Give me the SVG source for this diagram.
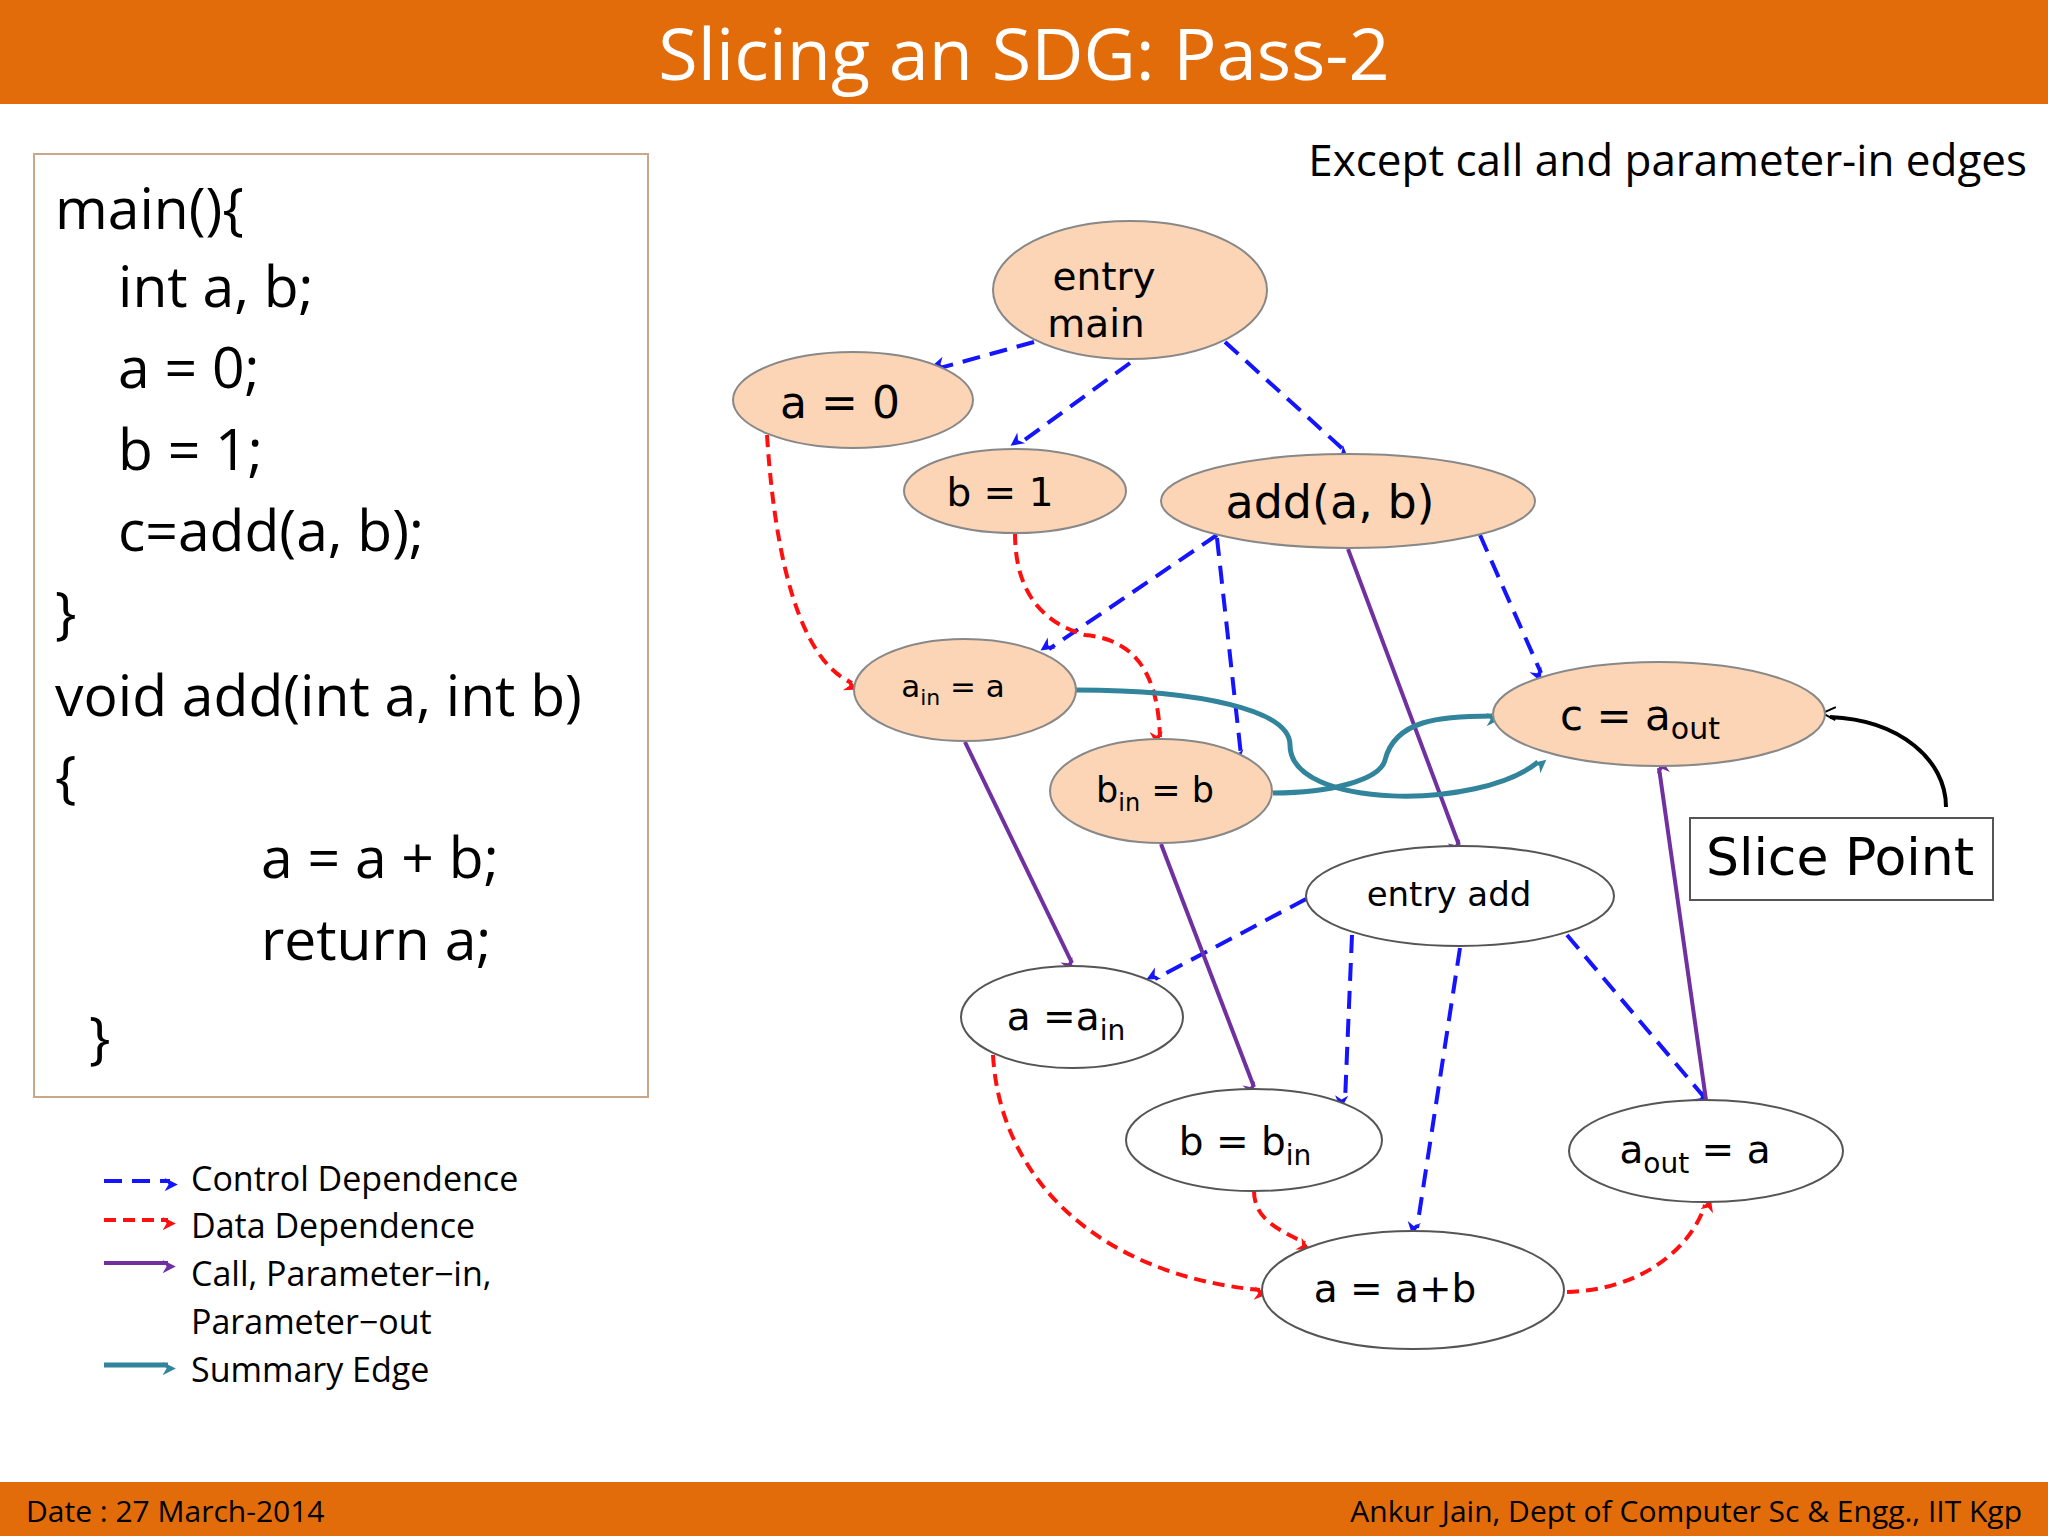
<svg xmlns="http://www.w3.org/2000/svg" width="2048" height="1536" viewBox="0 0 2048 1536">
<defs>
<style>
.n{fill:#FBD5B5;stroke:#888;stroke-width:2}
.w{fill:#fff;stroke:#555;stroke-width:2}
.t{font-family:"DejaVu Sans",sans-serif;fill:#000;text-anchor:middle}
.c{fill:none;stroke:#1414FF;stroke-width:4;stroke-dasharray:18 10}
.d{fill:none;stroke:#FF1010;stroke-width:4;stroke-dasharray:12 7}
.p{fill:none;stroke:#7030A0;stroke-width:4}
.s{fill:none;stroke:#31849B;stroke-width:5}
.code{font-family:"Open Sans",sans-serif;font-size:57px;fill:#000}
.lg{font-family:"Open Sans",sans-serif;font-size:34px;fill:#000}
</style>
<marker id="mb" viewBox="0 0 10 10" refX="9" refY="5" markerWidth="6" markerHeight="6" orient="auto" markerUnits="userSpaceOnUse" style="overflow:visible"><path d="M0,0 L10,5 L0,10 L3,5 Z" fill="#1414FF" transform="scale(2.2)"/></marker>
<marker id="mr" viewBox="0 0 10 10" refX="9" refY="5" markerWidth="6" markerHeight="6" orient="auto" markerUnits="userSpaceOnUse" style="overflow:visible"><path d="M0,0 L10,5 L0,10 L3,5 Z" fill="#FF1010" transform="scale(2.2)"/></marker>
<marker id="mp" viewBox="0 0 10 10" refX="9" refY="5" markerWidth="6" markerHeight="6" orient="auto" markerUnits="userSpaceOnUse" style="overflow:visible"><path d="M0,0 L10,5 L0,10 L3,5 Z" fill="#7030A0" transform="scale(2.2)"/></marker>
<marker id="ms" viewBox="0 0 10 10" refX="9" refY="5" markerWidth="6" markerHeight="6" orient="auto" markerUnits="userSpaceOnUse" style="overflow:visible"><path d="M0,0 L10,5 L0,10 L3,5 Z" fill="#31849B" transform="scale(2.2)"/></marker>
<marker id="mk" viewBox="0 0 10 10" refX="9" refY="5" markerWidth="6" markerHeight="6" orient="auto" markerUnits="userSpaceOnUse" style="overflow:visible"><path d="M0,0 L10,5 L0,10" fill="none" stroke="#000" stroke-width="1.5" transform="scale(2.2)"/></marker>
</defs>
<rect width="2048" height="1536" fill="#fff"/>
<rect x="0" y="0" width="2048" height="104" fill="#E36C0A"/>
<text x="1024" y="80" font-family="Open Sans,sans-serif" font-size="72" fill="#fff" text-anchor="middle">Slicing an SDG: Pass-2</text>
<rect x="0" y="1482" width="2048" height="54" fill="#E36C0A"/>
<text x="26" y="1522" font-family="Open Sans,sans-serif" font-size="30" fill="#000">Date : 27 March-2014</text>
<text x="2022" y="1522" font-family="Open Sans,sans-serif" font-size="30" fill="#000" text-anchor="end">Ankur Jain, Dept of Computer Sc &amp; Engg., IIT Kgp</text>
<text x="2027" y="176" font-family="Open Sans,sans-serif" font-size="44" fill="#000" text-anchor="end">Except call and parameter-in edges</text>

<g id="code">
<rect x="34" y="154" width="614" height="943" fill="#fff" stroke="#C8A888" stroke-width="2"/>
<text class="code" x="55" y="229">main(){</text>
<text class="code" x="118" y="307">int a, b;</text>
<text class="code" x="118" y="388">a = 0;</text>
<text class="code" x="118" y="470">b = 1;</text>
<text class="code" x="118" y="551">c=add(a, b);</text>
<text class="code" x="55" y="633">}</text>
<text class="code" x="55" y="716">void add(int a, int b)</text>
<text class="code" x="55" y="797">{</text>
<text class="code" x="261" y="878">a = a + b;</text>
<text class="code" x="261" y="960">return a;</text>
<text class="code" x="89" y="1058">}</text>
</g>

<g id="edges">
<path class="c" d="M1034,342 L940,368" marker-end="url(#mb)"/>
<path class="c" d="M1130,363 L1019,444" marker-end="url(#mb)"/>
<path class="c" d="M1225,342 L1345,451" marker-end="url(#mb)"/>
<path class="c" d="M1217,535 L1049,649" marker-end="url(#mb)"/>
<path class="c" d="M1217,538 L1241,755" marker-end="url(#mb)"/>
<path class="c" d="M1480,535 L1541,673" marker-end="url(#mb)"/>
<path class="c" d="M1306,899 L1155,979" marker-end="url(#mb)"/>
<path class="c" d="M1352,935 L1345,1101" marker-end="url(#mb)"/>
<path class="c" d="M1460,948 L1417,1228" marker-end="url(#mb)"/>
<path class="c" d="M1567,935 L1704,1097" marker-end="url(#mb)"/>
<path class="d" d="M767,435 C775,560 800,660 852,683" marker-end="url(#mr)"/>
<path class="d" d="M1015,533 C1015,600 1050,625 1085,635 C1140,640 1158,680 1160,737" marker-end="url(#mr)"/>
<path class="d" d="M993,1055 C1000,1180 1100,1275 1260,1290" marker-end="url(#mr)"/>
<path class="d" d="M1254,1191 C1254,1220 1280,1230 1305,1243" marker-end="url(#mr)"/>
<path class="d" d="M1567,1292 C1640,1290 1690,1250 1705,1205" marker-end="url(#mr)"/>
<path class="p" d="M965,742 L1072,963" marker-end="url(#mp)"/>
<path class="p" d="M1161,844 L1254,1087" marker-end="url(#mp)"/>
<path class="p" d="M1348,549 L1459,845" marker-end="url(#mp)"/>
<path class="p" d="M1706,1100 L1659,768" marker-end="url(#mp)"/>
<path class="s" d="M1076,690 C1200,690 1290,710 1290,745 C1290,810 1480,810 1538,762" marker-end="url(#ms)"/>
<path class="s" d="M1273,793 C1330,793 1380,780 1385,760 C1395,720 1440,716 1492,716" marker-end="url(#ms)"/>
<path d="M1946,807 C1946,760 1900,720 1830,717" fill="none" stroke="#000" stroke-width="4" marker-end="url(#mk)"/>
</g>

<g id="entry_main"><ellipse class="n" cx="1130" cy="290" rx="137" ry="69"/><text class="t" x="1104" y="290" font-size="39">entry</text><text class="t" x="1096" y="337" font-size="39">main</text></g>
<g id="a0"><ellipse class="n" cx="853" cy="400" rx="120" ry="48"/><text class="t" x="840" y="418" font-size="44">a = 0</text></g>
<g id="b1"><ellipse class="n" cx="1015" cy="491" rx="111" ry="42"/><text class="t" x="1000" y="506" font-size="39">b = 1</text></g>
<g id="add"><ellipse class="n" cx="1348" cy="501" rx="187" ry="47"/><text class="t" x="1330" y="518" font-size="46">add(a, b)</text></g>
<g id="ain"><ellipse class="n" cx="965" cy="690" rx="111" ry="51"/><text class="t" x="953" y="697" font-size="31">a<tspan font-size="22" dy="8">in</tspan><tspan dy="-8"> = a</tspan></text></g>
<g id="bin"><ellipse class="n" cx="1161" cy="791" rx="111" ry="52"/><text class="t" x="1155" y="802" font-size="35">b<tspan font-size="24" dy="9">in</tspan><tspan dy="-9"> = b</tspan></text></g>
<g id="c"><ellipse class="n" cx="1659" cy="714" rx="166" ry="52"/><text class="t" x="1640" y="730" font-size="42">c = a<tspan font-size="30" dy="9">out</tspan></text></g>
<g id="entry_add"><ellipse class="w" cx="1460" cy="896" rx="154" ry="50"/><text class="t" x="1449" y="906" font-size="34">entry add</text></g>
<g id="a_ain"><ellipse class="w" cx="1072" cy="1017" rx="111" ry="51"/><text class="t" x="1066" y="1030" font-size="39">a =a<tspan font-size="28" dy="10">in</tspan></text></g>
<g id="b_bin"><ellipse class="w" cx="1254" cy="1140" rx="128" ry="51"/><text class="t" x="1245" y="1155" font-size="39">b = b<tspan font-size="28" dy="10">in</tspan></text></g>
<g id="aout"><ellipse class="w" cx="1706" cy="1151" rx="137" ry="51"/><text class="t" x="1695" y="1163" font-size="39">a<tspan font-size="28" dy="10">out</tspan><tspan dy="-10"> = a</tspan></text></g>
<g id="aab"><ellipse class="w" cx="1413" cy="1290" rx="151" ry="59"/><text class="t" x="1395" y="1302" font-size="39">a = a+b</text></g>
<g id="slice"><rect x="1690" y="818" width="303" height="82" fill="#fff" stroke="#555" stroke-width="2"/><text class="t" x="1840" y="875" font-size="52">Slice Point</text></g>

<g id="legend">
<line class="c" x1="104" y1="1181" x2="170" y2="1181" stroke-dasharray="12 8" marker-end="url(#mb)"/>
<line class="d" x1="104" y1="1220" x2="168" y2="1220" stroke-width="3" stroke-dasharray="6 4" marker-end="url(#mr)"/>
<line class="p" x1="104" y1="1263" x2="168" y2="1263" stroke-width="5" marker-end="url(#mp)"/>
<line class="s" x1="104" y1="1365" x2="168" y2="1365" marker-end="url(#ms)"/>
<text class="lg" x="191" y="1191">Control Dependence</text>
<text class="lg" x="191" y="1238">Data Dependence</text>
<text class="lg" x="191" y="1286">Call, Parameter−in,</text>
<text class="lg" x="191" y="1334">Parameter−out</text>
<text class="lg" x="191" y="1382">Summary Edge</text>
</g>
</svg>
